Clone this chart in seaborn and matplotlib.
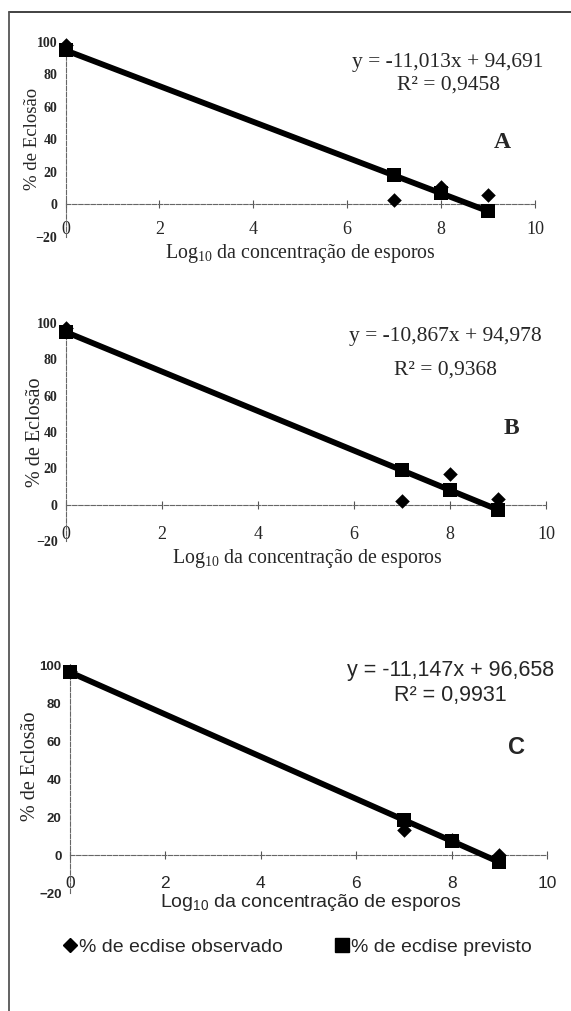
import matplotlib
matplotlib.use("Agg")
import matplotlib.pyplot as plt
from matplotlib.lines import Line2D
import seaborn as sns

# === DADOS ===
log_conc = [0, 7, 8, 9]

obs_a = [98.0, 2.5, 10.6, 5.5]
prev_a = [94.7, 17.6, 6.6, -4.4]

obs_b = [97.5, 2.2, 17.0, 3.1]
prev_b = [95.0, 18.9, 8.0, -2.8]

obs_c = [97.5, 13.5, 8.0, 0.0]
prev_c = [96.7, 18.6, 7.5, -3.7]

eq_a, r2_a = "y = -11,013x + 94,691", "R² = 0,9458"
eq_b, r2_b = "y = -10,867x + 94,978", "R² = 0,9368"
eq_c, r2_c = "y = -11,147x + 96,658", "R² = 0,9931"

x_ticks = [0, 2, 4, 6, 8, 10]
y_ticks = [-20, 0, 20, 40, 60, 80, 100]

SERIF = "Liberation Serif"
SANS = "Liberation Sans"

sns.set_style("white")
plt.rcParams["font.family"] = [SERIF, "DejaVu Serif"]

fig = plt.figure(figsize=(5.71, 10.11), dpi=100)
W, H = 571, 1011


def box(left, top, right, bottom):
    # pixel box -> fraction of figure
    return [left / W, 1 - bottom / H, (right - left) / W, (bottom - top) / H]


def painel(rect, obs, prev, eq, r2, letra, fam, ytick_size, xtick_size,
           ylab_size, xlab_size, eq_pos, r2_pos, letra_pos, ylab_xy, xlab_xy, xpad):
    ax = fig.add_axes(rect)
    ax.set_xlim(0, 10)
    ax.set_ylim(-20, 100)

    sns.lineplot(x=log_conc, y=prev, ax=ax, color="black", linewidth=4.2,
                 legend=False, zorder=2)
    sns.scatterplot(x=log_conc, y=prev, ax=ax, marker="s", s=100, color="black",
                    linewidth=0, clip_on=False, zorder=3)
    sns.scatterplot(x=log_conc, y=obs, ax=ax, marker="D", s=55, color="black",
                    linewidth=0, clip_on=False, zorder=4)

    for s in ["top", "right", "bottom"]:
        ax.spines[s].set_visible(False)
    ax.spines["left"].set(color="#666666", linewidth=0.8, linestyle=(0, (4, 1.5)))

    ax.set_yticks(y_ticks)
    ax.set_xticks(x_ticks)
    ax.tick_params(axis="y", direction="inout", length=6, width=0.8,
                   color="#555555", pad=3, labelsize=ytick_size)
    ax.tick_params(axis="x", length=0, pad=xpad, labelsize=xtick_size)
    for t in ax.get_yticklabels():
        t.set_fontweight("bold")
        t.set_family(fam)
    for t in ax.get_xticklabels():
        t.set_family(fam)

    # eixo x cruzando em y = 0
    loc0 = (0 - ax.get_ylim()[0]) / (ax.get_ylim()[1] - ax.get_ylim()[0])
    sec = ax.secondary_xaxis(loc0)
    sec.set_xticks(x_ticks)
    sec.tick_params(direction="inout", length=6, width=0.8, color="#555555",
                    labelbottom=False, labeltop=False)
    sec.spines["bottom"].set(color="#666666", linewidth=0.8, linestyle=(0, (4, 1.5)))

    ax.set_ylabel("% de Eclosão", fontsize=ylab_size, family=SERIF)
    ax.yaxis.set_label_coords(*ylab_xy)
    ax.yaxis.label.set_va("center")
    ax.set_xlabel(r"Log$_{\mathregular{10}}$ da concentração de esporos",
                  fontsize=xlab_size, family=fam)
    ax.xaxis.set_label_coords(*xlab_xy)
    ax.xaxis.label.set_va("center")

    ax.text(*eq_pos, eq, transform=ax.transAxes, ha="center", va="center",
            fontsize=15.5, family=fam)
    ax.text(*r2_pos, r2, transform=ax.transAxes, ha="center", va="center",
            fontsize=15.5, family=fam)
    ax.text(*letra_pos, letra, transform=ax.transAxes, ha="center", va="center",
            fontsize=17, fontweight="bold", family=fam)
    return ax


painel(box(65.5, 41.7, 535, 236.5), obs_a, prev_a, eq_a, r2_a, "A", SERIF,
       10, 13, 13.5, 14.3, (0.815, 0.891), (0.815, 0.778), (0.93, 0.48),
       (-0.07, 0.5), (0.5, -0.085), -11)
painel(box(66, 323, 546, 541), obs_b, prev_b, eq_b, r2_b, "B", SERIF,
       10, 13, 14.5, 14.3, (0.79, 0.936), (0.79, 0.784), (0.929, 0.518),
       (-0.0625, 0.5), (0.502, -0.078), -11)
painel(box(70, 666, 547, 893), obs_c, prev_c, eq_c, r2_c, "C", SANS,
       9.5, 12.5, 14.5, 14, (0.797, 0.982), (0.797, 0.872), (0.937, 0.639),
       (-0.082, 0.56), (0.505, -0.044), -12)

# === LEGENDA ===
handles = [
    Line2D([], [], marker="D", color="black", linestyle="none", markersize=7),
    Line2D([], [], marker="s", color="black", linestyle="none", markersize=10),
]
fig.legend(handles, ["% de ecdise observado", "% de ecdise previsto"],
           loc="center", bbox_to_anchor=(0.52, 1 - 947 / H), ncol=2,
           frameon=False, handletextpad=0.1, columnspacing=2.6, handlelength=0.8,
           prop={"family": SANS, "size": 14})

# === MOLDURA ===
fig.add_artist(Line2D([9 / W, 1], [1 - 12 / H, 1 - 12 / H],
                      transform=fig.transFigure, color="#333333", linewidth=1.3))
fig.add_artist(Line2D([9 / W, 9 / W], [0, 1 - 12 / H],
                      transform=fig.transFigure, color="#555555", linewidth=1.3))

fig.savefig("out.png", dpi=100)
